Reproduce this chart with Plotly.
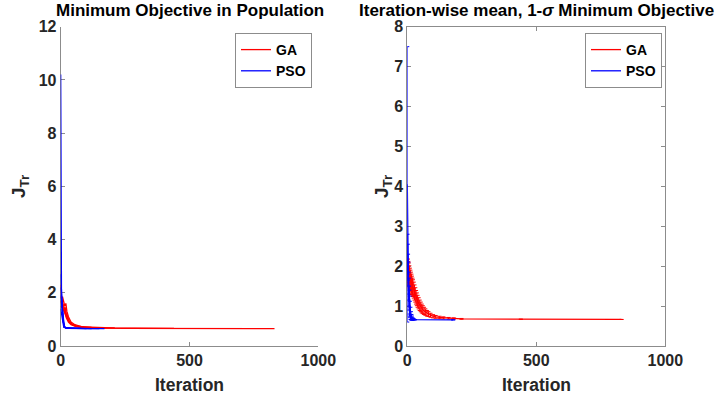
import plotly.graph_objects as go

# ---------------- data ----------------
# Left panel: individual runs (iteration, minimum objective)
ga_runs_iter = [
    [0, 5, 10, 15, 20, 25, 30, 40, 50, 70, 100, 150, 250, 830],
    [0, 4, 8, 14, 18, 22, 28, 35, 45, 60, 90, 130, 440],
    [0, 3, 7, 12, 16, 20, 24, 30, 40, 55, 80, 120, 210],
    [0, 6, 12, 18, 25, 32, 42, 60, 90, 170],
    [0, 5, 10, 16, 22, 30, 40, 60, 120],
]
ga_runs_val = [
    [1.85, 1.7, 1.55, 1.4, 1.2, 1.05, 0.95, 0.85, 0.78, 0.72, 0.69, 0.67, 0.66, 0.655],
    [1.6, 1.75, 1.5, 1.3, 1.45, 1.1, 1.0, 0.88, 0.8, 0.74, 0.7, 0.68, 0.66],
    [2.3, 1.8, 1.85, 1.6, 1.5, 1.6, 1.3, 1.1, 0.9, 0.8, 0.73, 0.7, 0.68],
    [1.7, 1.6, 1.35, 1.2, 1.15, 0.95, 0.82, 0.76, 0.72, 0.69],
    [1.5, 1.45, 1.4, 1.25, 1.05, 0.9, 0.8, 0.73, 0.69],
]
pso_runs_iter = [
    [0, 1, 3, 6, 10, 15, 25, 170],
    [0, 2, 5, 8, 12, 18, 120],
    [0, 3, 7, 11, 16, 22, 150],
    [0, 4, 9, 14, 20, 100],
    [0, 3, 7, 12, 80],
]
pso_runs_val = [
    [10.2, 2.6, 2.0, 1.4, 0.9, 0.7, 0.66, 0.65],
    [2.7, 2.2, 1.6, 1.1, 0.8, 0.68, 0.65],
    [2.2, 1.9, 1.3, 0.9, 0.7, 0.66, 0.65],
    [1.9, 1.5, 1.0, 0.75, 0.67, 0.655],
    [1.4, 1.2, 0.85, 0.7, 0.66],
]

# Right panel: iteration-wise mean and 1-sigma
ga_mean_iter = [0, 2, 4, 6, 8, 10, 12, 14, 16, 18, 20, 22, 25, 28, 31, 34, 37, 40, 44, 48,
                52, 56, 60, 65, 70, 76, 82, 90, 100, 110, 125, 140, 160, 180, 210, 440, 830]
ga_mean = [1.85, 1.88, 1.82, 1.78, 1.73, 1.68, 1.64, 1.6, 1.56, 1.52, 1.48, 1.45, 1.4, 1.34,
           1.28, 1.22, 1.17, 1.12, 1.07, 1.02, 0.98, 0.94, 0.91, 0.88, 0.85, 0.82, 0.8, 0.77,
           0.745, 0.73, 0.715, 0.705, 0.695, 0.69, 0.68, 0.67, 0.665]
ga_std = [0.32, 0.3, 0.3, 0.3, 0.28, 0.27, 0.26, 0.25, 0.24, 0.23, 0.22, 0.21, 0.2, 0.19,
          0.18, 0.17, 0.16, 0.15, 0.14, 0.13, 0.12, 0.11, 0.1, 0.09, 0.08, 0.07, 0.06, 0.05,
          0.04, 0.035, 0.03, 0.025, 0.02, 0.015, 0.01, 0.0, 0.0]

pso_mean_iter = [0, 1, 2, 3, 4, 5, 6, 7, 8, 9, 10, 12, 14, 16, 18, 20, 23, 26, 30, 178]
pso_mean = [4.05, 2.3, 2.1, 1.9, 1.7, 1.5, 1.35, 1.2, 1.1, 1.0, 0.92, 0.82, 0.76, 0.72,
            0.7, 0.68, 0.67, 0.665, 0.66, 0.655]
pso_std = [3.45, 0.5, 0.45, 0.4, 0.4, 0.35, 0.35, 0.3, 0.3, 0.25, 0.2, 0.15, 0.1, 0.07,
           0.05, 0.03, 0.02, 0.01, 0.005, 0.0]

x_ticks = [0, 500, 1000]
left_y_ticks = [0, 2, 4, 6, 8, 10, 12]
right_y_ticks = [0, 1, 2, 3, 4, 5, 6, 7, 8]

RED = "#ff0000"
BLUE = "#0000ff"
FONT = "Liberation Sans"
TXT = "#262626"
AX = "#8c8c8c"

fig = go.Figure()

for i, (xs, ys) in enumerate(zip(ga_runs_iter, ga_runs_val)):
    fig.add_trace(go.Scatter(x=xs, y=ys, mode="lines", line=dict(color=RED, width=1.3),
                             name="GA", legendgroup="ga", showlegend=(i == 0),
                             legend="legend", xaxis="x", yaxis="y", cliponaxis=False))
for i, (xs, ys) in enumerate(zip(pso_runs_iter, pso_runs_val)):
    fig.add_trace(go.Scatter(x=xs, y=ys, mode="lines", line=dict(color=BLUE, width=1.3),
                             name="PSO", legendgroup="pso", showlegend=(i == 0),
                             legend="legend", xaxis="x", yaxis="y", cliponaxis=False))

fig.add_trace(go.Scatter(x=ga_mean_iter, y=ga_mean, mode="lines",
                         line=dict(color=RED, width=1.3),
                         error_y=dict(type="data", array=ga_std, color=RED, thickness=1, width=2),
                         name="GA", legend="legend2", xaxis="x2", yaxis="y2", cliponaxis=False))
fig.add_trace(go.Scatter(x=pso_mean_iter, y=pso_mean, mode="lines",
                         line=dict(color=BLUE, width=1.3),
                         error_y=dict(type="data", array=pso_std, color=BLUE, thickness=1, width=2),
                         name="PSO", legend="legend2", xaxis="x2", yaxis="y2", cliponaxis=False))

ybot = (399 - 346) / 399
ytop = (399 - 26.7) / 399

axis_common = dict(showgrid=False, zeroline=False, showline=True, linecolor=AX, linewidth=1,
                   ticks="inside", ticklen=4, tickcolor=AX, layer="below traces",
                   automargin=False,
                   tickfont=dict(family=FONT, size=16, color=TXT, weight="bold"))

legend_common = dict(bgcolor="white", bordercolor=AX, borderwidth=1,
                     font=dict(family=FONT, size=14, color="black", weight="bold"),
                     tracegroupgap=0, itemwidth=30, yanchor="top", xanchor="right")

fig.update_layout(
    width=725, height=399, margin=dict(l=0, r=0, t=0, b=0, autoexpand=False),
    plot_bgcolor="white", paper_bgcolor="white",
    xaxis=dict(domain=[60.7 / 725, 318.3 / 725], range=[0, 1000], tickvals=x_ticks,
               anchor="y", mirror=False, **axis_common),
    yaxis=dict(domain=[ybot, ytop], range=[0, 12], tickvals=left_y_ticks,
               anchor="x", mirror=False, **axis_common),
    xaxis2=dict(domain=[407.3 / 725, 665.3 / 725], range=[0, 1000], tickvals=x_ticks,
                anchor="y2", mirror="allticks", **axis_common),
    yaxis2=dict(domain=[ybot, ytop], range=[0, 8], tickvals=right_y_ticks,
                anchor="x2", mirror="allticks", **axis_common),
    legend=dict(x=312 / 725, y=(399 - 33) / 399, **legend_common),
    legend2=dict(x=662 / 725, y=(399 - 33) / 399, **legend_common),
    showlegend=True,
)

ann_font = dict(family=FONT, size=17, color="black", weight="bold")
lab_font = dict(family=FONT, size=17.5, color=TXT, weight="bold")
jl_font = dict(family=FONT, size=19, color=TXT, weight="bold")
annotations = [
    dict(text="Minimum Objective in Population", x=189.5 / 725, y=(399 - 10) / 399,
         xref="paper", yref="paper", showarrow=False, font=ann_font,
         xanchor="center", yanchor="middle"),
    dict(text="Iteration-wise mean, 1-<i>σ</i> Minimum Objective", x=536 / 725, y=(399 - 10) / 399,
         xref="paper", yref="paper", showarrow=False, font=ann_font,
         xanchor="center", yanchor="middle"),
    dict(text="Iteration", x=189.5 / 725, y=(399 - 385) / 399, xref="paper", yref="paper",
         showarrow=False, font=lab_font, xanchor="center", yanchor="middle"),
    dict(text="Iteration", x=536.3 / 725, y=(399 - 385) / 399, xref="paper", yref="paper",
         showarrow=False, font=lab_font, xanchor="center", yanchor="middle"),
    dict(text="J<sub>Tr</sub>", x=20 / 725, y=(399 - 187) / 399, xref="paper", yref="paper",
         showarrow=False, font=jl_font, textangle=-90, xanchor="center", yanchor="middle"),
    dict(text="J<sub>Tr</sub>", x=383 / 725, y=(399 - 187) / 399, xref="paper", yref="paper",
         showarrow=False, font=jl_font, textangle=-90, xanchor="center", yanchor="middle"),
]
fig.update_layout(annotations=annotations)

fig.write_html("out.html")
